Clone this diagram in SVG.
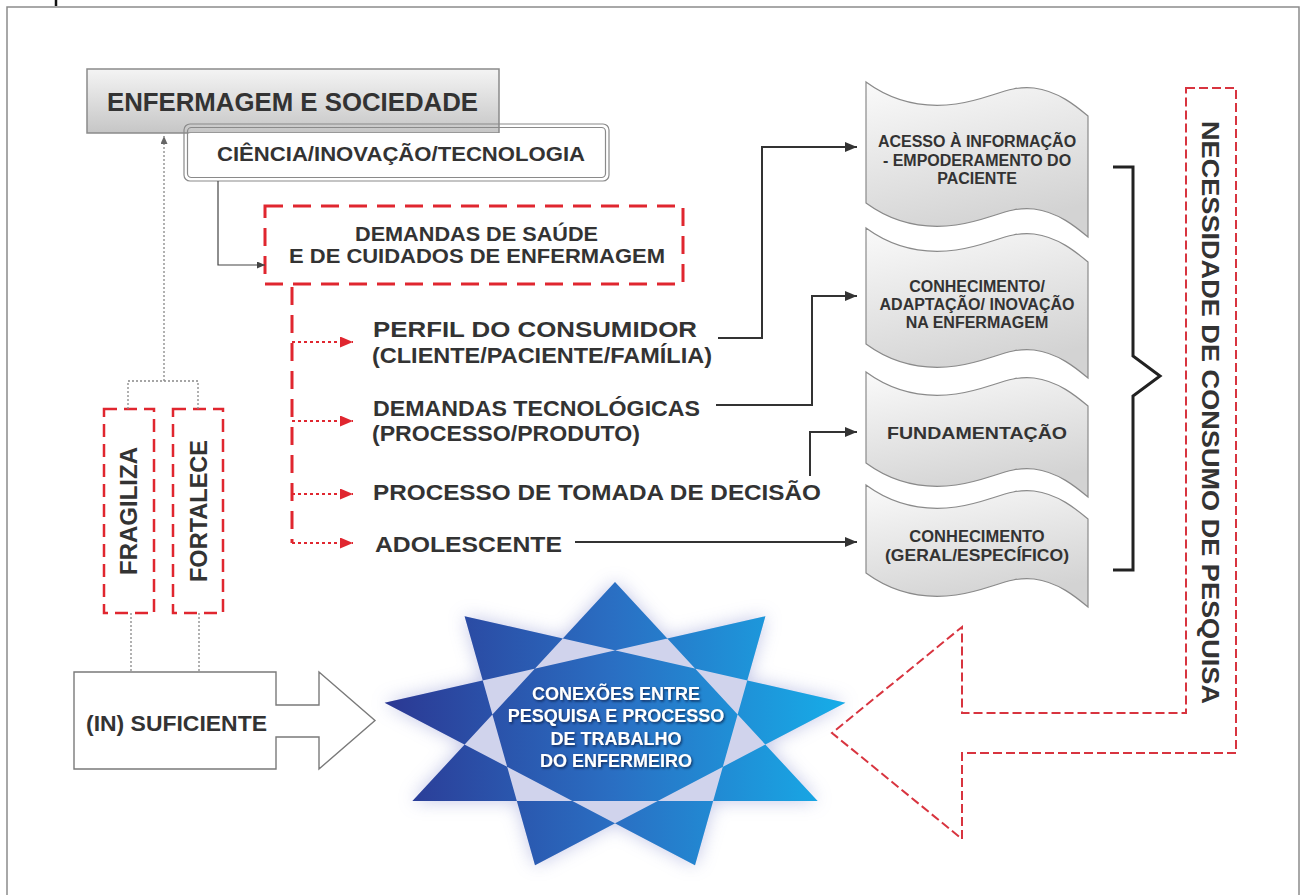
<svg xmlns="http://www.w3.org/2000/svg" width="1306" height="895" viewBox="0 0 1306 895">
  <defs>
    <style>
      .t{font-family:"Liberation Sans",Arial,Helvetica,sans-serif;font-weight:bold;fill:#333}
      .st{font-family:"Liberation Sans",Arial,Helvetica,sans-serif;font-weight:bold;fill:#fff;font-size:18px}
      .red-box{fill:none;stroke:#e0262f;stroke-width:3;stroke-dasharray:18 10}
      .red-thin{fill:none;stroke:#e0262f;stroke-width:2.5;stroke-dasharray:13 7}
      .branch{fill:none;stroke:#e0262f;stroke-width:2;stroke-dasharray:3 3}
      .link{fill:none;stroke:#333;stroke-width:2}
      .dot{fill:none;stroke:#888;stroke-width:1.3;stroke-dasharray:2 2}
      .wave{fill:url(#waveFill);stroke:#8a8a8a;stroke-width:1.2}
      .wt{font-size:16px;text-anchor:middle}
    </style>
    <linearGradient id="boxFill" x1="0" y1="0" x2="0" y2="1">
      <stop offset="0" stop-color="#f4f4f4"/>
      <stop offset="1" stop-color="#c6c6c6"/>
    </linearGradient>
    <linearGradient id="waveFill" x1="0" y1="0" x2="0.3" y2="1">
      <stop offset="0" stop-color="#fafafa"/>
      <stop offset="1" stop-color="#d3d3d3"/>
    </linearGradient>
    <linearGradient id="starFill" gradientUnits="userSpaceOnUse" x1="385" y1="700" x2="845" y2="700">
      <stop offset="0" stop-color="#2b3893"/>
      <stop offset="0.5" stop-color="#2a6fc3"/>
      <stop offset="1" stop-color="#16ade8"/>
    </linearGradient>
    <filter id="glow" x="-20%" y="-20%" width="140%" height="140%">
      <feGaussianBlur stdDeviation="9"/>
    </filter>
    <filter id="textShadow" x="-10%" y="-20%" width="120%" height="150%">
      <feDropShadow dx="1.2" dy="1.5" stdDeviation="0.8" flood-color="#10204a" flood-opacity="0.85"/>
    </filter>
    <marker id="arrowBlack" markerUnits="userSpaceOnUse" markerWidth="12" markerHeight="10" refX="12" refY="5" orient="auto">
      <path d="M0,0 L12,5 L0,10 Z" fill="#333"/>
    </marker>
    <marker id="arrowSmall" markerUnits="userSpaceOnUse" markerWidth="8" markerHeight="7" refX="8" refY="3.5" orient="auto">
      <path d="M0,0 L8,3.5 L0,7 Z" fill="#444"/>
    </marker>
    <marker id="arrowGray" markerUnits="userSpaceOnUse" markerWidth="8" markerHeight="7" refX="8" refY="3.5" orient="auto">
      <path d="M0,0 L8,3.5 L0,7 Z" fill="#666"/>
    </marker>
    <marker id="arrowRed" markerUnits="userSpaceOnUse" markerWidth="13" markerHeight="11" refX="13" refY="5.5" orient="auto">
      <path d="M0,0 L13,5.5 L0,11 Z" fill="#e0262f"/>
    </marker>
  </defs>

  <rect width="1306" height="895" fill="#fff"/>
  <!-- page frame -->
  <path d="M7,900 V7 H1299 V900" fill="none" stroke="#8c8c8c" stroke-width="1.5"/>
  <line x1="56" y1="0" x2="56" y2="6" stroke="#111" stroke-width="2.5"/>

  <!-- top boxes -->
  <g id="enfermagem-sociedade">
    <rect x="87" y="69" width="412" height="64" fill="url(#boxFill)" stroke="#8a8a8a" stroke-width="1.5"/>
    <text class="t" x="107" y="111" font-size="25" textLength="371" lengthAdjust="spacingAndGlyphs">ENFERMAGEM E SOCIEDADE</text>
  </g>

  <g id="ciencia-inovacao">
    <rect x="187" y="133" width="419" height="45" rx="4" fill="#fff"/>
    <rect x="184" y="124" width="425" height="57" rx="6" fill="none" stroke="#8a8a8a" stroke-width="1.2"/>
    <rect x="187.5" y="127.5" width="418" height="50" rx="4" fill="none" stroke="#8a8a8a" stroke-width="1.2"/>
    <text class="t" x="217" y="161" font-size="19.5" textLength="368" lengthAdjust="spacingAndGlyphs">CIÊNCIA/INOVAÇÃO/TECNOLOGIA</text>
  </g>

  <g id="demandas-saude">
    <rect class="red-box" x="265" y="206" width="418" height="78"/>
    <text class="t" x="355" y="241" font-size="20.5" textLength="243" lengthAdjust="spacingAndGlyphs">DEMANDAS DE SAÚDE</text>
    <text class="t" x="289" y="263" font-size="20.5" textLength="376" lengthAdjust="spacingAndGlyphs">E DE CUIDADOS DE ENFERMAGEM</text>
  </g>

  <!-- items -->
  <g id="perfil-consumidor">
    <text class="t" x="373" y="337" font-size="22.5" textLength="324" lengthAdjust="spacingAndGlyphs">PERFIL DO CONSUMIDOR</text>
    <text class="t" x="372" y="363" font-size="22.5" textLength="340" lengthAdjust="spacingAndGlyphs">(CLIENTE/PACIENTE/FAMÍLIA)</text>
  </g>
  <g id="demandas-tecnologicas">
    <text class="t" x="373" y="416" font-size="22.5" textLength="327" lengthAdjust="spacingAndGlyphs">DEMANDAS TECNOLÓGICAS</text>
    <text class="t" x="372" y="441" font-size="22.5" textLength="268" lengthAdjust="spacingAndGlyphs">(PROCESSO/PRODUTO)</text>
  </g>
  <g id="tomada-decisao">
    <text class="t" x="373" y="500" font-size="22.5" textLength="448" lengthAdjust="spacingAndGlyphs">PROCESSO DE TOMADA DE DECISÃO</text>
  </g>
  <g id="adolescente">
    <text class="t" x="375" y="552" font-size="22.5" textLength="187" lengthAdjust="spacingAndGlyphs">ADOLESCENTE</text>
  </g>

  <!-- wave documents -->
  <g id="acesso-informacao">
    <path class="wave" d="M866,82 C896,104 926,108 956,104 C991,99 1008,85 1034,88 C1058,91 1076,106 1088,116 V237 C1076,227 1058,212 1034,209 C1008,206 991,220 956,225 C926,229 896,225 866,203 Z"/>
    <text class="t wt" x="977" y="147">ACESSO À INFORMAÇÃO</text>
    <text class="t wt" x="977" y="166">- EMPODERAMENTO DO</text>
    <text class="t wt" x="977" y="184">PACIENTE</text>
  </g>
  <g id="conhecimento-adaptacao">
    <path class="wave" d="M866,228 C896,250 926,254 956,250 C991,245 1008,231 1034,234 C1058,237 1076,252 1088,262 V378 C1076,368 1058,353 1034,350 C1008,347 991,361 956,366 C926,370 896,366 866,344 Z"/>
    <text class="t wt" x="977" y="292">CONHECIMENTO/</text>
    <text class="t wt" x="977" y="310">ADAPTAÇÃO/ INOVAÇÃO</text>
    <text class="t wt" x="977" y="328">NA ENFERMAGEM</text>
  </g>
  <g id="fundamentacao">
    <path class="wave" d="M866,372 C896,394 926,398 956,394 C991,389 1008,375 1034,378 C1058,381 1076,396 1088,406 V497 C1076,487 1058,472 1034,469 C1008,466 991,480 956,485 C926,489 896,485 866,463 Z"/>
    <text class="t" x="977" y="439" font-size="17" text-anchor="middle" textLength="180" lengthAdjust="spacingAndGlyphs">FUNDAMENTAÇÃO</text>
  </g>
  <g id="conhecimento-geral">
    <path class="wave" d="M866,485 C896,507 926,511 956,507 C991,502 1008,488 1034,491 C1058,494 1076,509 1088,519 V607 C1076,597 1058,582 1034,579 C1008,576 991,590 956,595 C926,599 896,595 866,573 Z"/>
    <text class="t" x="977" y="542" font-size="16.5" text-anchor="middle">CONHECIMENTO</text>
    <text class="t" x="977" y="561" font-size="16.5" text-anchor="middle" textLength="184" lengthAdjust="spacingAndGlyphs">(GERAL/ESPECÍFICO)</text>
  </g>

  <!-- brace -->
  <g id="chave">
    <path d="M1113,167 H1133 V356 L1160,376 L1133,396 V570 H1113" fill="none" stroke="#222" stroke-width="3"/>
  </g>

  <!-- research demand band with big arrow -->
  <g id="necessidade-consumo">
    <path d="M1186,88 H1236 V753 H962 V839 L832,733 L962,627 V713 H1186 Z" fill="none" stroke="#d8343f" stroke-width="2" stroke-dasharray="9 4"/>
    <text class="t" transform="translate(1210,412.5) rotate(90)" x="0" y="8" font-size="23.5" text-anchor="middle" textLength="583" lengthAdjust="spacingAndGlyphs">NECESSIDADE DE CONSUMO DE PESQUISA</text>
  </g>

  <!-- side boxes -->
  <g id="fragiliza">
    <rect class="red-thin" x="104" y="409" width="50" height="204"/>
    <text class="t" transform="translate(128.5,511) rotate(-90)" x="0" y="8.5" font-size="24" text-anchor="middle" textLength="128" lengthAdjust="spacingAndGlyphs">FRAGILIZA</text>
  </g>
  <g id="fortalece">
    <rect class="red-thin" x="173" y="409" width="50" height="204"/>
    <text class="t" transform="translate(198,511) rotate(-90)" x="0" y="8.5" font-size="24" text-anchor="middle" textLength="142" lengthAdjust="spacingAndGlyphs">FORTALECE</text>
  </g>

  <g id="in-suficiente">
    <path d="M74,672 H276 V705 H319 V672 L375,720.5 L319,769 V737 H276 V769 H74 Z" fill="#fff" stroke="#7a7a7a" stroke-width="1.4"/>
    <text class="t" x="86" y="731" font-size="22.5" textLength="181" lengthAdjust="spacingAndGlyphs">(IN) SUFICIENTE</text>
  </g>

  <!-- central star -->
  <g id="conexoes">
    <path d="M615,582 L817.6,801 L412.4,801 Z M765.4,616.2 L695,865.2 L384.6,702.7 Z M845.4,702.7 L535,865.2 L464.6,616.2 Z" fill="#aeb3df" opacity="0.75" filter="url(#glow)"/>
    <path d="M615,582 L817.6,801 L412.4,801 Z M765.4,616.2 L695,865.2 L384.6,702.7 Z M845.4,702.7 L535,865.2 L464.6,616.2 Z" fill="#d0d3ec"/>
    <path d="M615,582 L817.6,801 L412.4,801 Z M765.4,616.2 L695,865.2 L384.6,702.7 Z M845.4,702.7 L535,865.2 L464.6,616.2 Z" fill="url(#starFill)" fill-rule="evenodd"/>
    <g filter="url(#textShadow)">
      <text class="st" x="616" y="700" text-anchor="middle">CONEXÕES ENTRE</text>
      <text class="st" x="616" y="722" text-anchor="middle">PESQUISA E PROCESSO</text>
      <text class="st" x="616" y="745" text-anchor="middle">DE TRABALHO</text>
      <text class="st" x="616" y="767" text-anchor="middle">DO ENFERMEIRO</text>
    </g>
  </g>

  <!-- connectors -->
  <g id="connectors">
    <path d="M218,181 V265 H265" fill="none" stroke="#444" stroke-width="1.2" marker-end="url(#arrowSmall)"/>
    <path class="dot" d="M164,381 V136" marker-end="url(#arrowGray)"/>
    <path class="dot" d="M128,409 V381 H198 V409"/>
    <path class="dot" d="M131,613 V672"/>
    <path class="dot" d="M199,613 V672"/>
    <path d="M292,287 V543" fill="none" stroke="#e0262f" stroke-width="3" stroke-dasharray="18 10"/>
    <path class="branch" d="M292,342 H353" marker-end="url(#arrowRed)"/>
    <path class="branch" d="M292,421 H353" marker-end="url(#arrowRed)"/>
    <path class="branch" d="M292,494 H353" marker-end="url(#arrowRed)"/>
    <path class="branch" d="M292,543 H353" marker-end="url(#arrowRed)"/>
    <path class="link" d="M718,338 H762 V147 H857" marker-end="url(#arrowBlack)"/>
    <path class="link" d="M716,405 H812 V296 H857" marker-end="url(#arrowBlack)"/>
    <path class="link" d="M810,476 V432 H857" marker-end="url(#arrowBlack)"/>
    <path class="link" d="M575,542 H857" marker-end="url(#arrowBlack)"/>
  </g>
</svg>
